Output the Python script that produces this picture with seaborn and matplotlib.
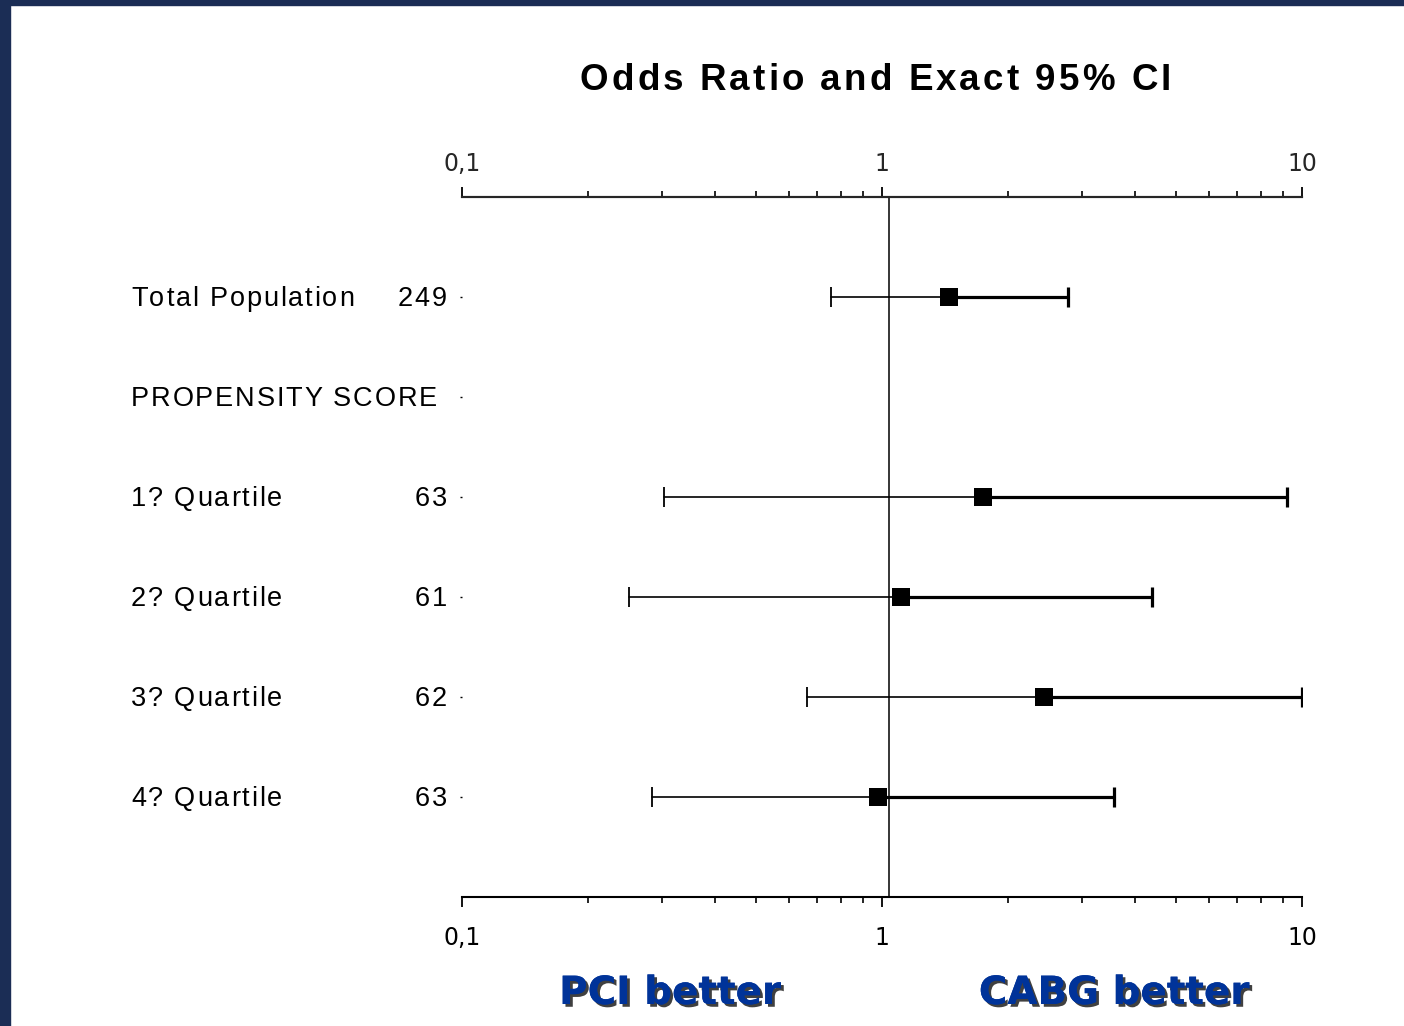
import numpy as np
import pandas as pd
import matplotlib
matplotlib.use("Agg")
import matplotlib.pyplot as plt
import matplotlib.patheffects as pe
from matplotlib.patches import Rectangle
from matplotlib.ticker import FixedLocator, FixedFormatter, LogLocator, NullFormatter
from matplotlib.font_manager import FontProperties, findfont
from matplotlib.ft2font import FT2Font
import seaborn as sns

# ---- data ----
row_labels = ["Total Population", "PROPENSITY SCORE", "1? Quartile",
              "2? Quartile", "3? Quartile", "4? Quartile"]
row_n = ["249", "", "63", "61", "62", "63"]
odds_ratio = [1.44, np.nan, 1.74, 1.11, 2.43, 0.98]
ci_low = [0.757, np.nan, 0.303, 0.25, 0.663, 0.283]
ci_high = [2.77, np.nan, 9.2, 4.39, 10.0, 3.57]
tick_values = [0.1, 1, 10]
tick_labels = ["0,1", "1", "10"]
ref_line = 1.04

sns.set_style("white")
plt.rcParams['font.family'] = ['DejaVu Sans']

df = pd.DataFrame({"label": row_labels, "n": row_n, "or": odds_ratio,
                   "lo": ci_low, "hi": ci_high,
                   "row": np.arange(1, len(row_labels) + 1)})

W, H = 1404, 1026
fig = plt.figure(figsize=(W / 100, H / 100), dpi=100, facecolor="white")


def advances(s, family, weight, size_pt):
    path = findfont(FontProperties(family=family, weight=weight))
    f = FT2Font(path)
    f.set_size(size_pt, 100)
    return [f.load_char(ord(c)).linearHoriAdvance / 65536 for c in s]


def spaced_text(x_px, base_px, s, size, spacing, weight="normal", ha="left",
                family="Liberation Sans", color="black"):
    adv = advances(s, family, weight, size)
    total = sum(adv[:-1]) + adv[-1] * 0.9 + spacing * (len(s) - 1)
    if ha == "left":
        x = x_px
    elif ha == "right":
        x = x_px - total
    else:
        x = x_px - total / 2
    for c, a in zip(s, adv):
        if c != " ":
            fig.text(x / W, 1 - base_px / H, c, fontsize=size, family=family,
                     fontweight=weight, va="baseline", ha="left", color=color)
        x += a + spacing


# navy frame
navy = "#1b2d55"
fig.patches.append(Rectangle((0, 0), 10 / W, 1, transform=fig.transFigure,
                             color=navy, zorder=0))
fig.patches.append(Rectangle((0, 1 - 5 / H), 1, 5 / H, transform=fig.transFigure,
                             color=navy, zorder=0))

ax_top_px, ax_bot_px = 197, 897
ax = fig.add_axes([462 / W, 1 - ax_bot_px / H, 840 / W, (ax_bot_px - ax_top_px) / H])
ax.set_facecolor("none")
ax.set_xscale("log")

# CI lines: left part thin, right part thick
for _, r in df.dropna().iterrows():
    y = r["row"]
    ax.plot([r["lo"], r["or"]], [y, y], color="black", lw=1.2, zorder=2)
    ax.plot([r["or"], r["hi"]], [y, y], color="black", lw=2.3, zorder=2)
    ax.plot([r["lo"]], [y], marker="|", ms=15, mew=1.3, color="black", zorder=2)
    ax.plot([r["hi"]], [y], marker="|", ms=15, mew=2.3, color="black", zorder=2)

sns.scatterplot(data=df.dropna(), x="or", y="row", marker="s", s=160,
                color="black", linewidth=0, ax=ax, legend=False, zorder=3)

ax.axvline(ref_line, color="black", lw=1.1, zorder=1)

ax.set_xlim(0.1, 10)
ax.set_ylim(7, 0)
ax.set_xlabel("")
ax.set_ylabel("")

for s in ["left", "right"]:
    ax.spines[s].set_visible(False)
for s in ["top", "bottom"]:
    ax.spines[s].set_linewidth(1.5)
    ax.spines[s].set_color("black")

ax.xaxis.set_major_locator(FixedLocator(tick_values))
ax.xaxis.set_major_formatter(FixedFormatter(tick_labels))
ax.xaxis.set_minor_locator(LogLocator(base=10, subs=np.arange(2, 10)))
ax.xaxis.set_minor_formatter(NullFormatter())
ax.tick_params(axis="x", which="major", bottom=True, top=False, labelbottom=True,
               labeltop=False, direction="out", length=7, width=1.3,
               labelsize=17, pad=14, color="black", labelcolor="black")
ax.tick_params(axis="x", which="minor", bottom=True, top=False, direction="out",
               length=4.5, width=1.2, color="black")

ax.set_yticks(df["row"])
ax.set_yticklabels([])
ax.tick_params(axis="y", left=True, length=1.5, width=1, color="black")

# top axis
ax2 = ax.twiny()
ax2.set_xscale("log")
ax2.set_xlim(0.1, 10)
ax2.set_facecolor("none")
for s in ["left", "right", "bottom"]:
    ax2.spines[s].set_visible(False)
ax2.spines["top"].set_linewidth(1.5)
ax2.xaxis.set_major_locator(FixedLocator(tick_values))
ax2.xaxis.set_major_formatter(FixedFormatter(tick_labels))
ax2.xaxis.set_minor_locator(LogLocator(base=10, subs=np.arange(2, 10)))
ax2.xaxis.set_minor_formatter(NullFormatter())
ax2.tick_params(axis="x", which="major", top=True, labeltop=True, direction="out",
                length=7, width=1.3, labelsize=17, pad=8, color="black")
ax2.tick_params(axis="x", which="minor", top=True, direction="out",
                length=4.5, width=1.2, color="black")

# row labels (letter-spaced, like the original)
row_px = (ax_bot_px - ax_top_px) / 7.0
for _, r in df.iterrows():
    base = ax_top_px + row_px * r["row"] + 9
    spaced_text(131, base, r["label"], 19.5, 1.8)
    if r["n"]:
        spaced_text(445, base, r["n"], 19.5, 1.8, ha="right")

# title
spaced_text(875, 90, "Odds Ratio and Exact 95% CI", 26.5, 3.1, weight="bold",
            ha="center")

# bottom annotations
shadow = [pe.withSimplePatchShadow(offset=(2, -2), shadow_rgbFace="#101010", alpha=0.8),
          pe.Normal()]
for xc, txt in [(670, "PCI better"), (1114, "CABG better")]:
    fig.text(xc / W, 1 - 993 / H, txt, ha="center", va="center", fontsize=28,
             fontweight="bold", color="#003399", path_effects=shadow)

fig.savefig("out.png", dpi=100, facecolor="white")
